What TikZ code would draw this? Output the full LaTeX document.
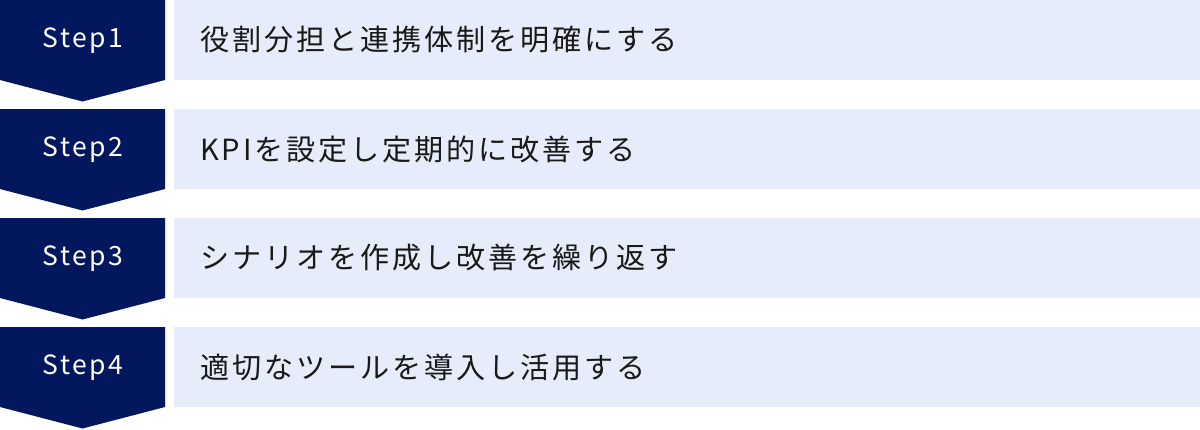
\documentclass[tikz,border=0pt]{standalone}
\usepackage{fontspec}
\newfontfamily\jpfont[LetterSpace=10]{Noto Sans CJK JP}
\newfontfamily\stepfont[LetterSpace=10]{Noto Sans CJK JP}
\definecolor{navy}{HTML}{03175F}
\definecolor{pale}{HTML}{E6ECF9}
\begin{document}
\begin{tikzpicture}[x=1pt,y=-1pt,
  stepshape/.style={fill=navy,draw=none},
  barshape/.style={fill=pale,draw=none},
  steplabel/.style={text=white,font=\stepfont\fontsize{26.5}{30}\selectfont,inner sep=0pt},
  barlabel/.style={text=black!90,font=\jpfont\fontsize{29.1}{34}\selectfont,anchor=west,inner sep=0pt}]
\useasboundingbox (0,0) rectangle (1200,429);
\foreach \i/\yy/\txt in {1/0/役割分担と連携体制を明確にする,
                         2/109/KPIを設定し定期的に改善する,
                         3/218/シナリオを作成し改善を繰り返す,
                         4/327/適切なツールを導入し活用する}{
  \fill[stepshape] (0,\yy) -- (165,\yy) -- (165,\yy+80) -- (82.5,\yy+101.5) -- (0,\yy+80) -- cycle;
  \fill[barshape] (174,\yy) rectangle (1200,\yy+80);
  \node[steplabel] (s\i) at (83,\yy+41) {Step\i};
  \node[barlabel] (t\i) at (200,\yy+40) {\txt};
}
\end{tikzpicture}
\end{document}
